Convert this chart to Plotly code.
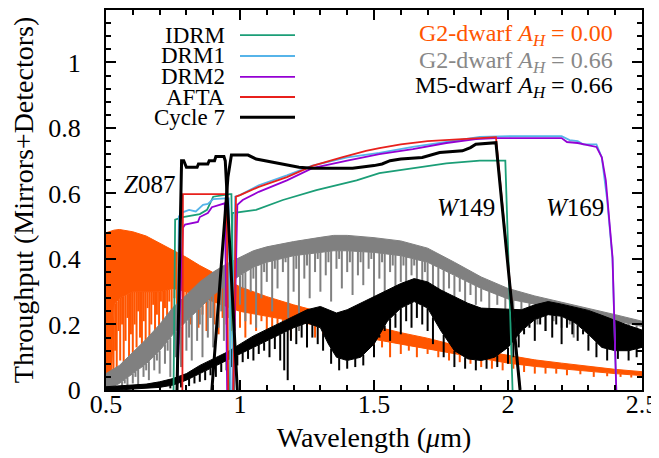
import numpy as np
import plotly.graph_objects as go

# ---------------- spectra ----------------
ORANGE_X = [0.50,0.52,0.53,0.55,0.60,0.65,0.70,0.75,0.80,0.85,0.90,0.95,1.00,1.10,1.20,1.30,1.40,1.50,1.60,1.70,1.80,1.90,2.00,2.10,2.20,2.30,2.40,2.50]
ORANGE_TOP = [0.48,0.487,0.488,0.49,0.483,0.47,0.448,0.425,0.405,0.38,0.358,0.335,0.315,0.285,0.26,0.238,0.215,0.195,0.175,0.158,0.137,0.12,0.106,0.092,0.082,0.072,0.063,0.056]
ORANGE_LOW = [0.01,0.02,0.26,0.28,0.3,0.3,0.3,0.31,0.3,0.285,0.27,0.255,0.24,0.225,0.21,0.195,0.175,0.155,0.14,0.125,0.11,0.095,0.082,0.072,0.064,0.057,0.05,0.044]
ORANGE_LINES_X = [0.528,0.534,0.54,0.547,0.553,0.56,0.566,0.573,0.58,0.586,0.593,0.6,0.607,0.614,0.62,0.627,0.634,0.641,0.648,0.655,0.662,0.669,0.676,0.683,0.69,0.698,0.705,0.713,0.72,0.728,0.736,0.745,0.755,0.765,0.775,0.79,0.8,0.815,0.83,0.845,0.86,0.875,0.89,0.905,0.92,0.935,0.95,0.965,0.98,1.0,1.02,1.04,1.06,1.08,1.1,1.12,1.14,1.16,1.19,1.22,1.25,1.28,1.31,1.34,1.37,1.4,1.43,1.46,1.5,1.53,1.56,1.6,1.63,1.66,1.7,1.74,1.78,1.82,1.86,1.9,1.94,1.98,2.02,2.06,2.1,2.14,2.18,2.22,2.27,2.32,2.37,2.42,2.46]
ORANGE_LINES_Y = [0.03,0.12,0.06,0.18,0.09,0.2,0.05,0.15,0.22,0.1,0.17,0.07,0.2,0.13,0.24,0.16,0.09,0.21,0.15,0.25,0.12,0.2,0.26,0.17,0.23,0.14,0.27,0.2,0.25,0.18,0.27,0.22,0.28,0.2,0.26,0.22,0.27,0.2,0.24,0.19,0.23,0.18,0.22,0.2,0.17,0.22,0.2,0.18,0.21,0.19,0.16,0.2,0.18,0.21,0.15,0.19,0.17,0.2,0.16,0.18,0.19,0.16,0.17,0.14,0.16,0.14,0.15,0.13,0.12,0.13,0.1,0.11,0.12,0.1,0.11,0.1,0.09,0.085,0.08,0.07,0.065,0.06,0.065,0.055,0.05,0.05,0.05,0.045,0.048,0.04,0.042,0.04,0.038]

GRAY_X = [0.50,0.55,0.60,0.65,0.70,0.75,0.80,0.85,0.90,0.95,1.00,1.05,1.10,1.20,1.30,1.35,1.40,1.50,1.60,1.70,1.80,1.90,2.00,2.10,2.20,2.30,2.40,2.50]
GRAY_TOP = [0.05,0.075,0.115,0.155,0.20,0.252,0.29,0.33,0.36,0.385,0.405,0.425,0.437,0.453,0.466,0.472,0.472,0.465,0.455,0.433,0.39,0.345,0.31,0.287,0.268,0.25,0.23,0.21]
GRAY_LOW = [0.0,0.02,0.05,0.08,0.12,0.17,0.21,0.25,0.29,0.32,0.35,0.375,0.39,0.41,0.42,0.425,0.425,0.42,0.41,0.39,0.35,0.31,0.278,0.262,0.247,0.23,0.212,0.194]
GRAY_LINES_X = [0.56,0.57,0.58,0.60,0.61,0.62,0.64,0.65,0.66,0.68,0.69,0.70,0.72,0.73,0.74,0.76,0.77,0.78,0.80,0.81,0.82,0.84,0.85,0.86,0.88,0.89,0.90,0.92,0.93,0.94,0.96,0.97,0.98,1.00,1.01,1.02,1.04,1.05,1.06,1.08,1.09,1.10,1.12,1.13,1.14,1.16,1.17,1.18,1.20,1.21,1.22,1.24,1.25,1.26,1.28,1.29,1.30,1.32,1.33,1.34,1.36,1.37,1.38,1.40,1.41,1.42,1.44,1.45,1.46,1.48,1.49,1.50,1.52,1.53,1.54,1.56,1.57,1.58,1.60,1.61,1.62,1.64,1.65,1.66,1.68,1.69,1.70,1.72,1.74,1.76,1.78,1.80,1.82,1.84,1.86,1.88,1.90,1.93,1.96,1.99,2.02,2.05,2.08,2.11,2.14,2.17,2.20,2.23,2.245,2.27,2.30,2.33,2.36,2.39,2.42,2.45,2.48]
GRAY_LINES_Y = [0.0,0.02,0.01,0.02,0.04,0.01,0.04,0.06,0.03,0.06,0.09,0.05,0.08,0.12,0.04,0.1,0.14,0.07,0.12,0.16,0.09,0.15,0.2,0.1,0.16,0.22,0.13,0.19,0.24,0.15,0.22,0.27,0.18,0.26,0.31,0.21,0.3,0.34,0.19,0.28,0.36,0.33,0.24,0.37,0.31,0.36,0.39,0.22,0.3,0.37,0.18,0.34,0.38,0.28,0.36,0.4,0.3,0.35,0.39,0.27,0.37,0.4,0.31,0.36,0.39,0.29,0.35,0.39,0.32,0.37,0.4,0.28,0.34,0.39,0.3,0.36,0.38,0.27,0.33,0.38,0.3,0.35,0.38,0.29,0.33,0.36,0.27,0.32,0.3,0.26,0.31,0.28,0.3,0.25,0.29,0.26,0.27,0.24,0.26,0.23,0.24,0.21,0.23,0.2,0.18,0.21,0.19,0.2,0.16,0.2,0.18,0.19,0.17,0.18,0.17,0.165,0.16]

BLACK_X = [0.50,0.55,0.60,0.65,0.70,0.75,0.80,0.85,0.90,0.95,1.00,1.05,1.10,1.15,1.20,1.25,1.30,1.33,1.36,1.40,1.45,1.50,1.55,1.60,1.65,1.70,1.75,1.80,1.85,1.90,1.95,2.00,2.05,2.10,2.15,2.20,2.25,2.30,2.35,2.40,2.45,2.50]
BLACK_TOP = [0.01,0.012,0.015,0.018,0.025,0.035,0.05,0.075,0.095,0.115,0.14,0.165,0.185,0.205,0.225,0.245,0.255,0.245,0.235,0.245,0.265,0.285,0.305,0.325,0.34,0.33,0.305,0.285,0.265,0.25,0.248,0.245,0.245,0.26,0.27,0.262,0.253,0.243,0.228,0.212,0.197,0.183]
BLACK_LOW = [0.0,0.0,0.003,0.005,0.008,0.015,0.03,0.05,0.07,0.09,0.11,0.13,0.15,0.17,0.19,0.205,0.19,0.14,0.1,0.09,0.1,0.14,0.21,0.25,0.27,0.25,0.18,0.12,0.095,0.09,0.1,0.13,0.18,0.215,0.23,0.225,0.205,0.17,0.13,0.12,0.12,0.13]
BLACK_LINES_X = [0.74,0.78,0.81,0.83,0.85,0.87,0.89,0.91,0.93,0.95,0.97,0.99,1.01,1.03,1.05,1.07,1.09,1.11,1.13,1.15,1.165,1.178,1.19,1.21,1.23,1.25,1.27,1.29,1.31,1.34,1.37,1.40,1.43,1.46,1.5,1.52,1.54,1.56,1.58,1.6,1.62,1.64,1.66,1.68,1.70,1.72,1.76,1.80,1.84,1.88,1.92,1.96,2.0,2.02,2.04,2.06,2.08,2.1,2.12,2.14,2.165,2.18,2.2,2.22,2.24,2.26,2.28,2.3,2.33,2.37,2.41,2.45,2.48]
BLACK_LINES_Y = [0.005,0.008,0.012,0.02,0.025,0.03,0.045,0.04,0.055,0.06,0.07,0.075,0.085,0.095,0.09,0.11,0.12,0.1,0.125,0.09,0.06,0.03,0.15,0.14,0.16,0.13,0.16,0.14,0.12,0.08,0.06,0.065,0.07,0.075,0.1,0.16,0.18,0.15,0.19,0.17,0.21,0.19,0.22,0.2,0.18,0.14,0.1,0.07,0.065,0.06,0.065,0.07,0.08,0.1,0.13,0.17,0.19,0.15,0.2,0.18,0.16,0.2,0.14,0.19,0.17,0.15,0.17,0.12,0.1,0.09,0.095,0.09,0.1]

# ---------------- filter throughputs ----------------
FILTER_NAMES = ["IDRM", "DRM1", "DRM2", "AFTA", "Cycle 7"]
FILTER_COLORS = ["#1b9e77", "#56b4e9", "#9400d3", "#e8201c", "#000000"]
FILTER_WIDTHS = [1.8, 1.8, 1.8, 1.8, 3.0]

IDRM_Z_X = [0.752,0.758,0.787,0.85,0.877,0.90,0.962,0.968,0.978]
IDRM_Z_Y = [0.0,0.52,0.528,0.537,0.55,0.59,0.598,0.598,0.0]
IDRM_W_X = [0.962,0.972,1.06,1.16,1.285,1.435,1.52,1.645,1.77,1.895,1.99,2.017]
IDRM_W_Y = [0.0,0.54,0.55,0.58,0.61,0.64,0.662,0.677,0.692,0.70,0.70,0.0]

DRM1_Z_X = [0.765,0.772,0.788,0.81,0.835,0.862,0.88,0.90,0.945,0.958,0.965]
DRM1_Z_Y = [0.0,0.53,0.543,0.55,0.545,0.565,0.568,0.583,0.585,0.585,0.0]
DRM1_W_X = [0.972,0.982,1.0,1.07,1.175,1.27,1.4,1.52,1.645,1.77,1.895,2.02,2.2,2.23,2.26,2.28,2.33,2.35,2.37,2.39,2.404]
DRM1_W_Y = [0.0,0.59,0.595,0.625,0.655,0.685,0.71,0.724,0.742,0.757,0.773,0.775,0.775,0.763,0.76,0.75,0.75,0.71,0.58,0.4,0.0]

DRM2_Z_X = [0.765,0.787,0.795,0.82,0.843,0.85,0.88,0.895,0.925,0.943,0.948,0.952]
DRM2_Z_Y = [0.0,0.495,0.505,0.51,0.513,0.528,0.54,0.558,0.565,0.57,0.3,0.0]
DRM2_W_X = [0.975,0.99,1.01,1.07,1.175,1.27,1.4,1.52,1.645,1.77,1.88,1.955,2.2,2.22,2.26,2.33,2.35,2.365,2.39,2.404]
DRM2_W_Y = [0.0,0.565,0.58,0.605,0.64,0.677,0.70,0.72,0.735,0.754,0.766,0.769,0.769,0.757,0.754,0.742,0.71,0.64,0.405,0.0]

AFTA_Z_X = [0.785,0.787,0.95,0.956]
AFTA_Z_Y = [0.0,0.598,0.598,0.0]
AFTA_W_X = [0.975,0.985,1.0,1.07,1.175,1.27,1.38,1.47,1.52,1.6,1.7,1.8,1.9,1.955,2.045]
AFTA_W_Y = [0.0,0.59,0.595,0.62,0.65,0.684,0.71,0.73,0.738,0.75,0.76,0.765,0.77,0.772,0.0]

C7_Z_X = [0.765,0.782,0.79,0.80,0.84,0.845,0.88,0.885,0.905,0.91,0.94,0.945,0.99]
C7_Z_Y = [0.0,0.70,0.70,0.68,0.68,0.69,0.69,0.70,0.70,0.713,0.713,0.70,0.0]
C7_W_X = [0.895,0.955,0.968,1.03,1.06,1.15,1.22,1.27,1.42,1.5,1.53,1.56,1.6,1.68,1.745,1.83,1.86,1.88,1.955,2.045]
C7_W_Y = [0.0,0.65,0.717,0.717,0.705,0.69,0.68,0.677,0.677,0.685,0.69,0.70,0.705,0.71,0.725,0.73,0.74,0.75,0.755,0.0]

FILTERS = [
    (IDRM_Z_X, IDRM_Z_Y, IDRM_W_X, IDRM_W_Y),
    (DRM1_Z_X, DRM1_Z_Y, DRM1_W_X, DRM1_W_Y),
    (DRM2_Z_X, DRM2_Z_Y, DRM2_W_X, DRM2_W_Y),
    (AFTA_Z_X, AFTA_Z_Y, AFTA_W_X, AFTA_W_Y),
    (C7_Z_X, C7_Z_Y, C7_W_X, C7_W_Y),
]

STAR_LABELS = ["G2-dwarf <i>A</i><sub><i>H</i></sub> = 0.00",
               "G2-dwarf <i>A</i><sub><i>H</i></sub> = 0.66",
               "M5-dwarf <i>A</i><sub><i>H</i></sub> = 0.66"]
STAR_COLORS = ["#ff5500", "#888888", "#000000"]

BAND_LABELS = ["<i>Z</i>087", "<i>W</i>149", "<i>W</i>169"]
BAND_X = [0.664, 1.843, 2.25]
BAND_Y = [0.626, 0.556, 0.556]

FONT = "Liberation Serif, Times New Roman, DejaVu Serif, serif"

fig = go.Figure()


def add_spectrum(xs, top, low, lx, ly, color):
    fig.add_trace(go.Scatter(x=xs, y=top, mode="lines", line=dict(color=color, width=1),
                             hoverinfo="skip", showlegend=False))
    fig.add_trace(go.Scatter(x=xs, y=low, mode="lines", line=dict(color=color, width=1),
                             fill="tonexty", fillcolor=color, hoverinfo="skip", showlegend=False))
    sx, sy = [], []
    for w, b in zip(lx, ly):
        t = float(np.interp(w, xs, low))
        sx += [w, w, None]
        sy += [t, b, None]
    fig.add_trace(go.Scatter(x=sx, y=sy, mode="lines", line=dict(color=color, width=2),
                             hoverinfo="skip", showlegend=False))


add_spectrum(ORANGE_X, ORANGE_TOP, ORANGE_LOW, ORANGE_LINES_X, ORANGE_LINES_Y, STAR_COLORS[0])
add_spectrum(GRAY_X, GRAY_TOP, GRAY_LOW, GRAY_LINES_X, GRAY_LINES_Y, "#808080")
add_spectrum(BLACK_X, BLACK_TOP, BLACK_LOW, BLACK_LINES_X, BLACK_LINES_Y, "#000000")

for name, color, width, (zx, zy, wx, wy) in zip(FILTER_NAMES, FILTER_COLORS, FILTER_WIDTHS, FILTERS):
    fig.add_trace(go.Scatter(x=list(zx) + [None] + list(wx), y=list(zy) + [None] + list(wy),
                             mode="lines", name=name, line=dict(color=color, width=width),
                             showlegend=False))

# custom legend: text then line sample (plot area is 536 x 380 px)
row_y = [0.934, 0.879, 0.824, 0.771, 0.718]
for name, color, width, yy in zip(FILTER_NAMES, FILTER_COLORS, FILTER_WIDTHS, row_y):
    fig.add_annotation(x=0.2257, y=yy, xref="paper", yref="paper", text=name, showarrow=False,
                       xanchor="right", yanchor="middle", font=dict(family=FONT, size=23, color="black"))
    fig.add_shape(type="line", xref="paper", yref="paper", x0=0.25, x1=0.3526, y0=yy, y1=yy,
                  line=dict(color=color, width=width))

for txt, col, yy in zip(STAR_LABELS, STAR_COLORS, [0.934, 0.863, 0.797]):
    fig.add_annotation(x=0.95, y=yy, xref="paper", yref="paper", text=txt, showarrow=False,
                       xanchor="right", yanchor="middle", font=dict(family=FONT, size=24, color=col))

for txt, bx, by in zip(BAND_LABELS, BAND_X, BAND_Y):
    fig.add_annotation(x=bx, y=by, text=txt, showarrow=False, xanchor="center", yanchor="middle",
                       font=dict(family=FONT, size=25, color="black"))

axis_common = dict(showline=True, linewidth=2.2, linecolor="black", mirror="ticks", ticks="inside",
                   ticklen=10, tickwidth=2, tickcolor="black", showgrid=False, zeroline=False,
                   automargin=False, tickfont=dict(family=FONT, size=26, color="black"))

fig.update_xaxes(range=[0.5, 2.5], tick0=0.5, dtick=0.5,
                 minor=dict(dtick=0.1, ticks="inside", ticklen=5, tickwidth=1.6, tickcolor="black"),
                 title=dict(text="Wavelength (<i>μ</i>m)", font=dict(family=FONT, size=28), standoff=9),
                 ticklabelstandoff=-10,
                 **axis_common)
fig.update_yaxes(range=[0, 1.16], tick0=0, dtick=0.2,
                 minor=dict(dtick=0.04, ticks="inside", ticklen=5, tickwidth=1.6, tickcolor="black"),
                 title=dict(text="Throughput (Mirrors+Detectors)", font=dict(family=FONT, size=28), standoff=30),
                 ticklabelstandoff=18,
                 **axis_common)

# page body has an 8px default margin, so the figure is 8px smaller than the window
fig.update_layout(template="none", width=651, height=450, margin=dict(l=98, r=17, t=2, b=68),
                  plot_bgcolor="white", paper_bgcolor="white", showlegend=False,
                  font=dict(family=FONT, color="black"))

fig.write_html("out.html")
